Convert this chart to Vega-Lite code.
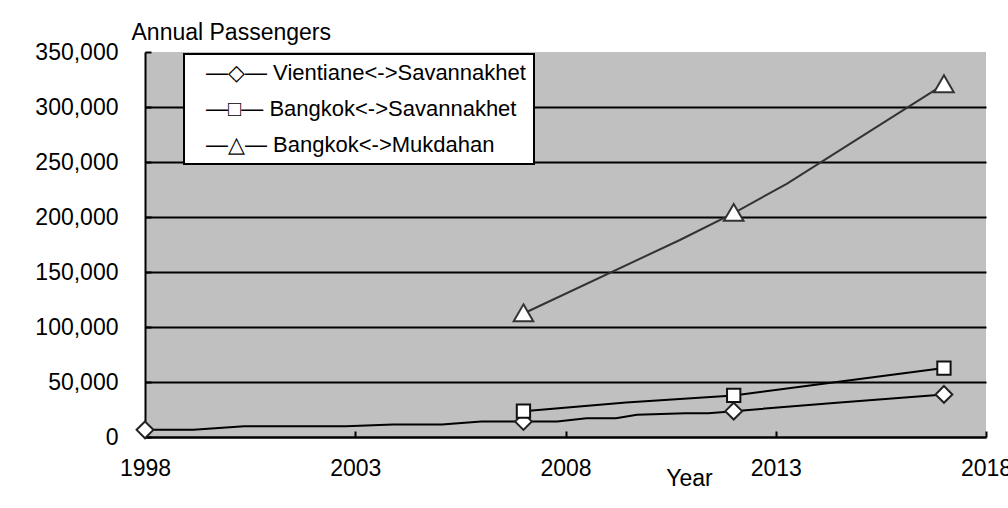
{
  "$schema": "https://vega.github.io/schema/vega-lite/v6.json",
  "width": 841,
  "height": 385,
  "autosize": "none",
  "padding": {"left": 145, "top": 52, "right": 22, "bottom": 71},
  "background": "white",
  "config": {
    "view": {"fill": "#C0C0C0", "stroke": null},
    "font": "Liberation Sans",
    "legend": {"strokeWidth": 2},
    "axis": {
      "labelFont": "Liberation Sans",
      "titleFont": "Liberation Sans",
      "labelColor": "black",
      "titleColor": "black",
      "labelFontSize": 23,
      "titleFontSize": 23,
      "titleFontWeight": "normal",
      "domainColor": "black",
      "domainWidth": 2,
      "tickColor": "black",
      "tickWidth": 2,
      "gridColor": "black",
      "gridWidth": 2
    }
  },
  "datasets": {
    "series": [
      {"route": "Vientiane<->Savannakhet", "year": 1998, "passengers": 6500},
      {"route": "Vientiane<->Savannakhet", "year": 1999.15, "passengers": 6500},
      {"route": "Vientiane<->Savannakhet", "year": 2000.36, "passengers": 9800},
      {"route": "Vientiane<->Savannakhet", "year": 2002.78, "passengers": 9800},
      {"route": "Vientiane<->Savannakhet", "year": 2003.9, "passengers": 11400},
      {"route": "Vientiane<->Savannakhet", "year": 2005.06, "passengers": 11400},
      {"route": "Vientiane<->Savannakhet", "year": 2006, "passengers": 14100},
      {"route": "Vientiane<->Savannakhet", "year": 2007, "passengers": 14100},
      {"route": "Vientiane<->Savannakhet", "year": 2007.8, "passengers": 14100},
      {"route": "Vientiane<->Savannakhet", "year": 2008.5, "passengers": 17100},
      {"route": "Vientiane<->Savannakhet", "year": 2009.2, "passengers": 17100},
      {"route": "Vientiane<->Savannakhet", "year": 2009.7, "passengers": 20200},
      {"route": "Vientiane<->Savannakhet", "year": 2010.85, "passengers": 21700},
      {"route": "Vientiane<->Savannakhet", "year": 2011.4, "passengers": 21700},
      {"route": "Vientiane<->Savannakhet", "year": 2012, "passengers": 23500},
      {"route": "Vientiane<->Savannakhet", "year": 2014.45, "passengers": 31200},
      {"route": "Vientiane<->Savannakhet", "year": 2017, "passengers": 38700},
      {"route": "Bangkok<->Savannakhet", "year": 2007, "passengers": 23500},
      {"route": "Bangkok<->Savannakhet", "year": 2009.44, "passengers": 31300},
      {"route": "Bangkok<->Savannakhet", "year": 2012, "passengers": 37800},
      {"route": "Bangkok<->Savannakhet", "year": 2017, "passengers": 62700},
      {"route": "Bangkok<->Mukdahan", "year": 2007, "passengers": 112300},
      {"route": "Bangkok<->Mukdahan", "year": 2010.72, "passengers": 179100},
      {"route": "Bangkok<->Mukdahan", "year": 2012, "passengers": 203500},
      {"route": "Bangkok<->Mukdahan", "year": 2013.26, "passengers": 230200},
      {"route": "Bangkok<->Mukdahan", "year": 2017, "passengers": 320500}
    ],
    "markers": [
      {"route": "Vientiane<->Savannakhet", "year": 1998, "passengers": 6500},
      {"route": "Vientiane<->Savannakhet", "year": 2007, "passengers": 14100},
      {"route": "Vientiane<->Savannakhet", "year": 2012, "passengers": 23500},
      {"route": "Vientiane<->Savannakhet", "year": 2017, "passengers": 38700},
      {"route": "Bangkok<->Savannakhet", "year": 2007, "passengers": 23500},
      {"route": "Bangkok<->Savannakhet", "year": 2012, "passengers": 37800},
      {"route": "Bangkok<->Savannakhet", "year": 2017, "passengers": 62700},
      {"route": "Bangkok<->Mukdahan", "year": 2007, "passengers": 112300},
      {"route": "Bangkok<->Mukdahan", "year": 2012, "passengers": 203500},
      {"route": "Bangkok<->Mukdahan", "year": 2017, "passengers": 320500}
    ]
  },
  "layer": [
    {
      "data": {"name": "series"},
      "transform": [{"filter": "datum.route !== 'Bangkok<->Mukdahan'"}],
      "mark": {"type": "line", "strokeWidth": 2, "color": "#000000"},
      "encoding": {
        "x": {
          "field": "year",
          "type": "quantitative",
          "scale": {"domain": [1998, 2018], "nice": false, "zero": false},
          "axis": {
            "values": [1998, 2003, 2008, 2013, 2018],
            "format": "d",
            "title": "Year",
            "titleX": 544,
            "titleY": 48,
            "titleAlign": "center",
            "titleBaseline": "alphabetic",
            "tickSize": -6,
            "labelPadding": 26,
            "grid": false,
            "labelFlush": false,
            "labelOverlap": false
          }
        },
        "y": {
          "field": "passengers",
          "type": "quantitative",
          "scale": {"domain": [0, 350000], "nice": false},
          "axis": {
            "values": [0, 50000, 100000, 150000, 200000, 250000, 300000, 350000],
            "format": ",d",
            "title": "Annual Passengers",
            "titleAngle": 0,
            "titleAlign": "left",
            "titleBaseline": "alphabetic",
            "titleX": -14,
            "titleY": -12.5,
            "tickSize": -6,
            "labelPadding": 33,
            "grid": true,
            "gridOpacity": {"condition": {"test": "datum.value >= 350000", "value": 0}, "value": 1},
            "labelOverlap": false
          }
        },
        "detail": {"field": "route", "type": "nominal"}
      }
    },
    {
      "data": {"name": "series"},
      "transform": [{"filter": "datum.route === 'Bangkok<->Mukdahan'"}],
      "mark": {"type": "line", "strokeWidth": 2, "color": "#333333"},
      "encoding": {
        "x": {"field": "year", "type": "quantitative"},
        "y": {"field": "passengers", "type": "quantitative"}
      }
    },
    {
      "data": {"name": "markers"},
      "transform": [{"filter": "datum.route === 'Vientiane<->Savannakhet'"}],
      "mark": {"type": "point", "shape": "M0,-1.2L1.2,0L0,1.2L-1.2,0Z", "filled": true, "fill": "white", "stroke": "#222222", "strokeWidth": 2, "size": 196, "opacity": 1},
      "encoding": {
        "x": {"field": "year", "type": "quantitative"},
        "y": {"field": "passengers", "type": "quantitative"}
      }
    },
    {
      "data": {"name": "markers"},
      "transform": [{"filter": "datum.route === 'Bangkok<->Savannakhet'"}],
      "mark": {"type": "point", "shape": "M-0.95,-0.95H0.95V0.95H-0.95Z", "filled": true, "fill": "white", "stroke": "#111111", "strokeWidth": 2, "size": 196, "opacity": 1},
      "encoding": {
        "x": {"field": "year", "type": "quantitative"},
        "y": {"field": "passengers", "type": "quantitative"}
      }
    },
    {
      "data": {"name": "markers"},
      "transform": [{"filter": "datum.route === 'Bangkok<->Mukdahan'"}],
      "mark": {"type": "point", "shape": "M0,-1.3L1.4,1.1H-1.4Z", "filled": true, "fill": "white", "stroke": "#333333", "strokeWidth": 2, "size": 196, "opacity": 1},
      "encoding": {
        "x": {"field": "year", "type": "quantitative"},
        "y": {"field": "passengers", "type": "quantitative"}
      }
    },
    {
      "data": {"name": "markers"},
      "transform": [{"filter": "false"}],
      "mark": {"type": "point", "filled": true, "fill": "white", "stroke": "black", "strokeWidth": 0, "size": 0},
      "encoding": {
        "x": {"field": "year", "type": "quantitative"},
        "y": {"field": "passengers", "type": "quantitative"},
        "shape": {
          "field": "route",
          "type": "nominal",
          "scale": {
            "domain": ["Vientiane<->Savannakhet", "Bangkok<->Savannakhet", "Bangkok<->Mukdahan"],
            "range": ["diamond", "square", "triangle-up"]
          },
          "legend": {
            "title": null,
            "orient": "none",
            "legendX": 39,
            "legendY": 2,
            "fillColor": "white",
            "strokeColor": "black",
            "padding": 8,
            "rowPadding": 14,
            "labelFont": "Liberation Sans",
            "labelFontSize": 22,
            "labelColor": "black",
            "labelLimit": 600,
            "labelOffset": -8,
            "labelExpr": "datum.value === 'Vientiane<->Savannakhet' ? '—◇— ' + datum.label : datum.value === 'Bangkok<->Savannakhet' ? '—□— ' + datum.label : '—△— ' + datum.label",
            "symbolSize": 0,
            "symbolOpacity": 0,
            "symbolStrokeWidth": 0
          }
        }
      }
    }
  ]
}
